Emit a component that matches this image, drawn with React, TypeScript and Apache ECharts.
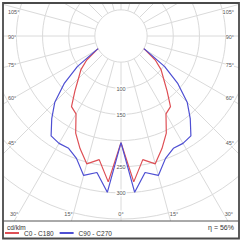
import React, { useEffect, useRef } from 'react';
import * as echarts from 'echarts';

// Gamma angles (deg from nadir) for one half-plane
const gammaAngles = [0, 5, 10, 15, 20, 25, 30, 35, 40, 45, 50, 55, 60, 65, 70, 75, 80, 85, 90,
  95, 100, 105, 110, 115, 120, 125, 130, 135, 140, 145, 150, 155, 160, 165, 170, 175, 180];
// Luminous intensity cd/klm
const c0c180 = [204, 280, 240, 253, 229, 205, 172, 165, 137, 115, 100, 80, 54, 35, 20, 12, 7, 4, 2,
  1, 0, 0, 0, 0, 0, 0, 0, 0, 0, 0, 0, 0, 0, 0, 0, 0, 0];
const c90c270 = [204, 300, 265, 276, 249, 237, 237, 233, 206, 179, 142, 102, 56, 35, 20, 12, 7, 4, 2,
  1, 0, 0, 0, 0, 0, 0, 0, 0, 0, 0, 0, 0, 0, 0, 0, 0, 0];
const seriesNames = ['C0 - C180', 'C90 - C270'];
const seriesColors = ['#de4f55', '#4e4fd3'];
const radialTickLabels = [100, 150, 250, 300];
const angleLabelTexts = ['105°', '90°', '75°', '60°', '45°', '30°'];
const bottomLabelTexts = ['15°', '0°', '15°'];
const unitText = 'cd/klm';
const efficiencyText = 'η = 56%';

// layout (styles only)
const CX = 121;
const CY = 36;
const K = 0.523; // px per cd/klm
const FONT = "'Liberation Sans', Arial, sans-serif";
const sideLabelY = [12, 36.5, 65, 98, 142.5, 213.5];
const bottomLabelX = [68.5, 121, 174];

function buildData(vals: number[]) {
  const left = gammaAngles.map((g, i) => [vals[i], g]);
  const right = gammaAngles.slice().reverse().map((g) => [vals[gammaAngles.indexOf(g)], 360 - g]);
  return left.concat(right.slice(1));
}

export default function App() {
  const ref = useRef<HTMLDivElement>(null);
  useEffect(() => {
    if (!ref.current) return;
    const chart = echarts.init(ref.current, null, { renderer: 'svg' });
    const gridColor = '#dadada';
    const labelStyle = { fill: '#555', fontSize: 5.5, fontFamily: FONT, verticalAlign: 'middle' };
    const graphics: any[] = [
      { type: 'rect', z: 10, shape: { x: 0, y: 0, width: 243, height: 3 }, style: { fill: '#fff' } },
      { type: 'rect', z: 10, shape: { x: 0, y: 0, width: 3, height: 244 }, style: { fill: '#fff' } },
      { type: 'rect', z: 10, shape: { x: 239, y: 0, width: 4, height: 244 }, style: { fill: '#fff' } },
      { type: 'rect', z: 10, shape: { x: 0, y: 221, width: 243, height: 23 }, style: { fill: '#fff' } },
      { type: 'rect', z: 11, shape: { x: 3, y: 3, width: 236, height: 235.5 }, style: { fill: 'none', stroke: '#4a4a4a', lineWidth: 1.8 } },
      { type: 'line', z: 11, shape: { x1: 3, y1: 221, x2: 239, y2: 221 }, style: { stroke: '#555', lineWidth: 1 } },
      { type: 'text', z: 21, style: { text: unitText, x: 7, y: 227, fill: '#333', fontSize: 6.5, fontFamily: FONT, verticalAlign: 'middle' } },
      { type: 'text', z: 21, style: { text: efficiencyText, x: 234, y: 227, fill: '#333', fontSize: 7, fontFamily: FONT, align: 'right', verticalAlign: 'middle' } },
    ];
    angleLabelTexts.forEach((t, i) => {
      graphics.push({ type: 'text', z: 21, style: { ...labelStyle, text: t, x: i === 5 ? 10 : 8, y: sideLabelY[i], align: 'left', backgroundColor: '#fff' } });
      graphics.push({ type: 'text', z: 21, style: { ...labelStyle, text: t, x: i === 5 ? 233 : 234, y: sideLabelY[i], align: 'right', backgroundColor: '#fff' } });
    });
    bottomLabelTexts.forEach((t, i) => {
      graphics.push({ type: 'text', z: 21, style: { ...labelStyle, text: t, x: bottomLabelX[i], y: 213.5, align: 'center', backgroundColor: '#fff' } });
    });
    const radiusColors = ['50', '100', '150', '200', '250', '300', '350', '400', '450'].map((_, i) => (i < 7 ? gridColor : 'rgba(0,0,0,0)'));
    chart.setOption({
      animation: false,
      polar: { center: [CX, CY], radius: [50 * K, 450 * K] },
      angleAxis: {
        type: 'value', min: 0, max: 360, interval: 15, startAngle: 270, clockwise: true,
        axisLine: { show: false }, axisTick: { show: false }, axisLabel: { show: false },
        splitLine: { show: true, lineStyle: { color: gridColor, width: 1 } },
      },
      radiusAxis: {
        type: 'value', min: 50, max: 450, interval: 50,
        axisLine: { show: false }, axisTick: { show: false },
        splitLine: { show: true, lineStyle: { color: radiusColors, width: 1 } },
        axisLabel: {
          show: true, margin: 0, align: 'center', verticalAlign: 'middle',
          formatter: (v: number) => (radialTickLabels.includes(v) ? `{a|${v}}` : ''),
          rich: { a: { backgroundColor: '#fff', padding: [1, 1, 0, 1], fontSize: 5.5, color: '#555', fontFamily: FONT } },
        },
      },
      legend: {
        data: seriesNames, left: 5, top: 229.5, padding: 0, itemWidth: 14, itemHeight: 2, icon: 'rect', itemGap: 6, z: 20,
        textStyle: { fontSize: 6.5, color: '#333', fontFamily: FONT },
      },
      graphic: { elements: graphics },
      series: [
        { name: seriesNames[0], type: 'line', coordinateSystem: 'polar', data: buildData(c0c180), showSymbol: false, symbol: 'none', clip: false, color: seriesColors[0], lineStyle: { color: seriesColors[0], width: 1.2 } },
        { name: seriesNames[1], type: 'line', coordinateSystem: 'polar', data: buildData(c90c270), showSymbol: false, symbol: 'none', clip: false, color: seriesColors[1], lineStyle: { color: seriesColors[1], width: 1.2 } },
      ],
    });
    return () => chart.dispose();
  }, []);
  return <div ref={ref} style={{ position: 'absolute', left: 0, top: 0, width: 243, height: 244 }} />;
}
